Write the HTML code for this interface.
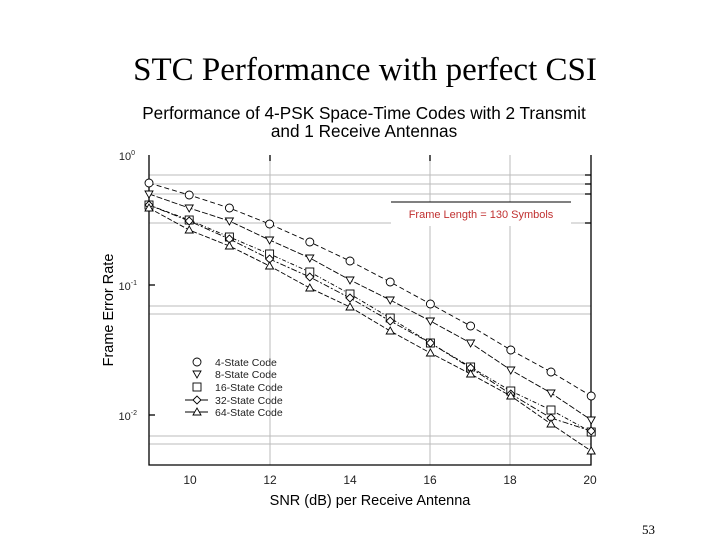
<!DOCTYPE html>
<html><head><meta charset="utf-8"><style>
html,body{margin:0;padding:0;background:#fff;width:720px;height:540px;overflow:hidden}
</style></head><body>
<svg id="s" width="720" height="540" xmlns="http://www.w3.org/2000/svg" font-family="Liberation Sans, sans-serif">
<text x="365" y="80" text-anchor="middle" font-family="Liberation Serif, serif" font-size="33">STC Performance with perfect CSI</text>
<text x="364" y="119" text-anchor="middle" font-size="17.2">Performance of 4-PSK Space-Time Codes with 2 Transmit</text>
<text x="364" y="137" text-anchor="middle" font-size="17.2">and 1 Receive Antennas</text>
<g stroke="#bbb" stroke-width="1">
<line x1="149" x2="591" y1="175" y2="175"/><line x1="149" x2="591" y1="184" y2="184"/>
<line x1="149" x2="591" y1="194" y2="194"/><line x1="149" x2="591" y1="223" y2="223"/>
<line x1="149" x2="591" y1="306" y2="306"/><line x1="149" x2="591" y1="314" y2="314"/>
<line x1="149" x2="591" y1="436" y2="436"/><line x1="149" x2="591" y1="444" y2="444"/>
<line x1="270" x2="270" y1="155" y2="465"/><line x1="430" x2="430" y1="155" y2="465"/><line x1="510" x2="510" y1="155" y2="465"/>
</g>
<rect x="391" y="202" width="180" height="24" fill="#fff"/>
<line x1="391" x2="571" y1="202" y2="202" stroke="#000"/>
<text x="481" y="218" text-anchor="middle" font-size="11" fill="#c03030">Frame Length = 130 Symbols</text>
<g stroke="#000" stroke-width="1.3" fill="none">
<polyline points="149,155 149,465 591,465 591,155"/>
<line x1="270" x2="270" y1="155" y2="161"/><line x1="430" x2="430" y1="155" y2="161"/>
<line x1="149" x2="155" y1="285" y2="285"/><line x1="149" x2="155" y1="415" y2="415"/>
<line x1="585" x2="591" y1="175" y2="175"/><line x1="585" x2="591" y1="184" y2="184"/><line x1="585" x2="591" y1="194" y2="194"/><line x1="585" x2="591" y1="223" y2="223"/>
</g>
<g font-size="11" fill="#222" text-anchor="end">
<text x="135" y="160">10<tspan font-size="7" dy="-5">0</tspan></text>
<text x="137" y="290">10<tspan font-size="7" dy="-5">-1</tspan></text>
<text x="137" y="420">10<tspan font-size="7" dy="-5">-2</tspan></text>
</g>
<g font-size="12" fill="#222" text-anchor="middle">
<text x="190" y="484">10</text><text x="270" y="484">12</text><text x="350" y="484">14</text><text x="430" y="484">16</text><text x="510" y="484">18</text><text x="590" y="484">20</text>
</g>
<text x="370" y="505" text-anchor="middle" font-size="14.5">SNR (dB) per Receive Antenna</text>
<text transform="translate(113,310) rotate(-90)" text-anchor="middle" font-size="14.5">Frame Error Rate</text>
<g id="series"></g>
<g font-size="10.5" fill="#222">
<text x="215" y="366">4-State Code</text>
<text x="215" y="378">8-State Code</text>
<text x="215" y="391">16-State Code</text>
<text x="215" y="404">32-State Code</text>
<text x="215" y="416">64-State Code</text>
</g>
<g id="leg"></g>
</svg>
<script>
var ys=[[183,195,208,224,242,261,282,304,326,350,372,396],
[194,208,221,240,258,280,300,321,343,370,393,420],
[205,220,237,254,272,294,318,343,367,391,410,432],
[205,221,239,259,277,298,321,343,368,394,418,431],
[208,230,246,266,288,307,331,353,374,396,424,451]];
var dash=["5,3","6,2","4,2,1,2","6,2,2,2","5,2"];
function mk(t,x,y){var r=4;
 if(t==0)return '<circle cx="'+x+'" cy="'+y+'" r="'+r+'" fill="#fff" stroke="#000" stroke-width="0.9"/>';
 if(t==1)return '<polygon points="'+(x-r)+','+(y-r+1)+' '+(x+r)+','+(y-r+1)+' '+x+','+(y+r)+'" fill="#fff" stroke="#000" stroke-width="0.9"/>';
 if(t==2)return '<rect x="'+(x-r)+'" y="'+(y-r)+'" width="'+2*r+'" height="'+2*r+'" fill="#fff" stroke="#000" stroke-width="0.9"/>';
 if(t==3)return '<polygon points="'+(x-r)+','+y+' '+x+','+(y-r)+' '+(x+r)+','+y+' '+x+','+(y+r)+'" fill="#fff" stroke="#000" stroke-width="0.9"/>';
 return '<polygon points="'+(x-r)+','+(y+r-1)+' '+(x+r)+','+(y+r-1)+' '+x+','+(y-r)+'" fill="#fff" stroke="#000" stroke-width="0.9"/>';}
var h='';
for(var s=0;s<5;s++){var p=[];for(var i=0;i<12;i++)p.push((149+i*40.2).toFixed(1)+','+ys[s][i]);
 h+='<polyline points="'+p.join(' ')+'" fill="none" stroke="#000" stroke-width="0.9" stroke-dasharray="'+dash[s]+'"/>';}
for(var s=0;s<5;s++)for(var i=0;i<12;i++)h+=mk(s,149+i*40.2,ys[s][i]);
document.getElementById('series').innerHTML=h;
var l='',ly=[362,374,387,400,412];
l+='<line x1="185" x2="208" y1="400" y2="400" stroke="#000"/><line x1="185" x2="208" y1="412" y2="412" stroke="#000"/>';
for(var s=0;s<5;s++)l+=mk(s,197,ly[s]);
document.getElementById('leg').innerHTML=l;
</script>
<div style="position:absolute;left:642px;top:522px;font-family:'Liberation Serif',serif;font-size:13px">53</div>
</body></html>
